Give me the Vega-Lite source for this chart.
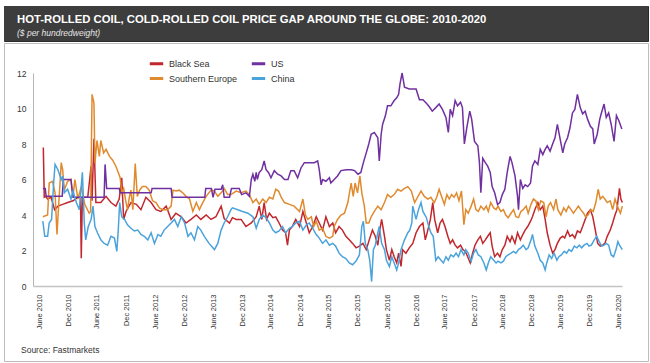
{
  "$schema": "https://vega.github.io/schema/vega-lite/v6.json",
  "background": "white",
  "padding": {"left": 3, "top": 5, "right": 3, "bottom": 5},
  "config": {
    "font": "Liberation Sans",
    "view": {"stroke": null},
    "concat": {"spacing": 0}
  },
  "spacing": 0,
  "vconcat": [
    {
      "width": 644,
      "height": 35,
      "view": {"fill": "#3d3d3d", "stroke": "#2a2a2a", "strokeWidth": 1},
      "data": {"values": [{"k": 1}]},
      "mark": {"type": "rect", "color": "#3d3d3d"},
      "encoding": {},
      "title": {
        "text": "HOT-ROLLED COIL, COLD-ROLLED COIL PRICE GAP AROUND THE GLOBE: 2010-2020",
        "subtitle": "($ per hundredweight)",
        "anchor": "start",
        "frame": "group",
        "orient": "top",
        "offset": -31,
        "dx": 13,
        "font": "Liberation Sans",
        "fontSize": 11.3,
        "fontWeight": "bold",
        "color": "#ffffff",
        "subtitleFont": "Liberation Sans",
        "subtitleFontSize": 8.5,
        "subtitleFontStyle": "italic",
        "subtitleColor": "#e6e6e6",
        "subtitlePadding": 3
      }
    },
    {
      "width": 644,
      "height": 318,
      "view": {"fill": "white", "stroke": "#bdbdbd", "strokeWidth": 1},
      "title": {
        "text": "Source: Fastmarkets",
        "anchor": "start",
        "frame": "group",
        "orient": "bottom",
        "offset": -15,
        "dx": 17,
        "fontSize": 8.5,
        "fontWeight": "normal",
        "color": "#333333"
      },
      "data": {"values": [
        {"s":"Black Sea","d":"2010-06-28","v":7.8},
        {"s":"Black Sea","d":"2010-07-04","v":5.0},
        {"s":"Black Sea","d":"2010-07-13","v":5.05},
        {"s":"Black Sea","d":"2010-07-25","v":4.9},
        {"s":"Black Sea","d":"2010-08-16","v":5.0},
        {"s":"Black Sea","d":"2010-09-07","v":4.3},
        {"s":"Black Sea","d":"2010-09-28","v":4.5},
        {"s":"Black Sea","d":"2010-10-28","v":4.6},
        {"s":"Black Sea","d":"2010-11-28","v":4.7},
        {"s":"Black Sea","d":"2011-01-01","v":4.8},
        {"s":"Black Sea","d":"2011-02-01","v":5.0},
        {"s":"Black Sea","d":"2011-02-17","v":5.0},
        {"s":"Black Sea","d":"2011-02-22","v":1.57},
        {"s":"Black Sea","d":"2011-03-01","v":5.0},
        {"s":"Black Sea","d":"2011-04-04","v":5.0},
        {"s":"Black Sea","d":"2011-04-25","v":6.75},
        {"s":"Black Sea","d":"2011-05-01","v":4.8},
        {"s":"Black Sea","d":"2011-05-13","v":8.3},
        {"s":"Black Sea","d":"2011-05-25","v":4.7},
        {"s":"Black Sea","d":"2011-06-25","v":4.7},
        {"s":"Black Sea","d":"2011-07-28","v":5.05},
        {"s":"Black Sea","d":"2011-08-28","v":4.7},
        {"s":"Black Sea","d":"2011-09-28","v":4.5},
        {"s":"Black Sea","d":"2011-10-19","v":4.9},
        {"s":"Black Sea","d":"2011-11-04","v":6.1},
        {"s":"Black Sea","d":"2011-11-16","v":3.75},
        {"s":"Black Sea","d":"2011-12-01","v":4.2},
        {"s":"Black Sea","d":"2012-01-01","v":4.7},
        {"s":"Black Sea","d":"2012-02-04","v":4.6},
        {"s":"Black Sea","d":"2012-03-04","v":4.3},
        {"s":"Black Sea","d":"2012-04-04","v":5.0},
        {"s":"Black Sea","d":"2012-05-07","v":4.7},
        {"s":"Black Sea","d":"2012-06-07","v":4.3},
        {"s":"Black Sea","d":"2012-07-07","v":4.2},
        {"s":"Black Sea","d":"2012-08-10","v":4.5},
        {"s":"Black Sea","d":"2012-09-10","v":3.75},
        {"s":"Black Sea","d":"2012-10-10","v":4.1},
        {"s":"Black Sea","d":"2012-11-13","v":3.9},
        {"s":"Black Sea","d":"2012-12-13","v":3.55},
        {"s":"Black Sea","d":"2013-01-13","v":3.75},
        {"s":"Black Sea","d":"2013-02-16","v":4.0},
        {"s":"Black Sea","d":"2013-03-16","v":3.75},
        {"s":"Black Sea","d":"2013-04-19","v":4.0},
        {"s":"Black Sea","d":"2013-05-19","v":3.75},
        {"s":"Black Sea","d":"2013-06-19","v":3.9},
        {"s":"Black Sea","d":"2013-07-22","v":4.5},
        {"s":"Black Sea","d":"2013-08-10","v":3.8},
        {"s":"Black Sea","d":"2013-09-13","v":3.55},
        {"s":"Black Sea","d":"2013-10-01","v":3.85},
        {"s":"Black Sea","d":"2013-10-25","v":3.75},
        {"s":"Black Sea","d":"2013-11-25","v":3.75},
        {"s":"Black Sea","d":"2013-12-25","v":3.35},
        {"s":"Black Sea","d":"2014-01-28","v":3.55},
        {"s":"Black Sea","d":"2014-02-28","v":3.9},
        {"s":"Black Sea","d":"2014-03-19","v":4.5},
        {"s":"Black Sea","d":"2014-04-04","v":3.75},
        {"s":"Black Sea","d":"2014-04-19","v":4.7},
        {"s":"Black Sea","d":"2014-05-04","v":3.75},
        {"s":"Black Sea","d":"2014-05-22","v":4.1},
        {"s":"Black Sea","d":"2014-06-13","v":3.85},
        {"s":"Black Sea","d":"2014-07-01","v":3.9},
        {"s":"Black Sea","d":"2014-07-22","v":3.55},
        {"s":"Black Sea","d":"2014-08-13","v":3.15},
        {"s":"Black Sea","d":"2014-09-01","v":3.0},
        {"s":"Black Sea","d":"2014-09-13","v":2.3},
        {"s":"Black Sea","d":"2014-09-25","v":3.15},
        {"s":"Black Sea","d":"2014-10-13","v":3.35},
        {"s":"Black Sea","d":"2014-11-04","v":3.75},
        {"s":"Black Sea","d":"2014-11-28","v":3.35},
        {"s":"Black Sea","d":"2014-12-19","v":4.2},
        {"s":"Black Sea","d":"2015-01-10","v":3.55},
        {"s":"Black Sea","d":"2015-01-28","v":3.0},
        {"s":"Black Sea","d":"2015-02-19","v":3.35},
        {"s":"Black Sea","d":"2015-03-13","v":3.9},
        {"s":"Black Sea","d":"2015-04-01","v":3.55},
        {"s":"Black Sea","d":"2015-04-22","v":3.15},
        {"s":"Black Sea","d":"2015-05-13","v":3.9},
        {"s":"Black Sea","d":"2015-06-04","v":3.35},
        {"s":"Black Sea","d":"2015-06-25","v":3.55},
        {"s":"Black Sea","d":"2015-07-13","v":3.0},
        {"s":"Black Sea","d":"2015-08-04","v":3.35},
        {"s":"Black Sea","d":"2015-08-25","v":3.15},
        {"s":"Black Sea","d":"2015-09-16","v":2.8},
        {"s":"Black Sea","d":"2015-10-07","v":2.6},
        {"s":"Black Sea","d":"2015-10-28","v":2.4},
        {"s":"Black Sea","d":"2015-11-19","v":2.15},
        {"s":"Black Sea","d":"2015-12-10","v":2.25},
        {"s":"Black Sea","d":"2016-01-01","v":2.4},
        {"s":"Black Sea","d":"2016-01-22","v":2.05},
        {"s":"Black Sea","d":"2016-02-10","v":2.6},
        {"s":"Black Sea","d":"2016-03-01","v":3.15},
        {"s":"Black Sea","d":"2016-03-19","v":2.8},
        {"s":"Black Sea","d":"2016-04-04","v":2.3},
        {"s":"Black Sea","d":"2016-04-16","v":3.15},
        {"s":"Black Sea","d":"2016-04-28","v":3.75},
        {"s":"Black Sea","d":"2016-05-16","v":2.8},
        {"s":"Black Sea","d":"2016-05-28","v":2.05},
        {"s":"Black Sea","d":"2016-06-16","v":1.45},
        {"s":"Black Sea","d":"2016-07-01","v":2.05},
        {"s":"Black Sea","d":"2016-07-16","v":1.65},
        {"s":"Black Sea","d":"2016-08-01","v":1.3},
        {"s":"Black Sea","d":"2016-08-13","v":1.85},
        {"s":"Black Sea","d":"2016-08-28","v":1.1},
        {"s":"Black Sea","d":"2016-09-07","v":2.05},
        {"s":"Black Sea","d":"2016-09-28","v":1.85},
        {"s":"Black Sea","d":"2016-10-19","v":2.15},
        {"s":"Black Sea","d":"2016-11-10","v":2.4},
        {"s":"Black Sea","d":"2016-12-01","v":3.0},
        {"s":"Black Sea","d":"2016-12-22","v":3.35},
        {"s":"Black Sea","d":"2017-01-13","v":3.55},
        {"s":"Black Sea","d":"2017-01-28","v":2.6},
        {"s":"Black Sea","d":"2017-02-13","v":3.15},
        {"s":"Black Sea","d":"2017-03-01","v":3.75},
        {"s":"Black Sea","d":"2017-03-16","v":4.7},
        {"s":"Black Sea","d":"2017-03-28","v":3.75},
        {"s":"Black Sea","d":"2017-04-16","v":3.0},
        {"s":"Black Sea","d":"2017-05-01","v":3.55},
        {"s":"Black Sea","d":"2017-05-16","v":3.75},
        {"s":"Black Sea","d":"2017-06-01","v":3.35},
        {"s":"Black Sea","d":"2017-06-19","v":2.8},
        {"s":"Black Sea","d":"2017-07-04","v":2.4},
        {"s":"Black Sea","d":"2017-07-19","v":2.6},
        {"s":"Black Sea","d":"2017-08-04","v":2.3},
        {"s":"Black Sea","d":"2017-08-19","v":2.15},
        {"s":"Black Sea","d":"2017-09-07","v":2.3},
        {"s":"Black Sea","d":"2017-09-22","v":2.05},
        {"s":"Black Sea","d":"2017-10-07","v":1.95},
        {"s":"Black Sea","d":"2017-10-22","v":1.65},
        {"s":"Black Sea","d":"2017-11-07","v":1.3},
        {"s":"Black Sea","d":"2017-11-22","v":1.85},
        {"s":"Black Sea","d":"2017-12-07","v":2.3},
        {"s":"Black Sea","d":"2017-12-25","v":2.6},
        {"s":"Black Sea","d":"2018-01-10","v":2.8},
        {"s":"Black Sea","d":"2018-01-25","v":2.4},
        {"s":"Black Sea","d":"2018-02-10","v":2.6},
        {"s":"Black Sea","d":"2018-02-25","v":2.8},
        {"s":"Black Sea","d":"2018-03-13","v":3.0},
        {"s":"Black Sea","d":"2018-03-25","v":2.25},
        {"s":"Black Sea","d":"2018-04-10","v":1.65},
        {"s":"Black Sea","d":"2018-04-28","v":1.85},
        {"s":"Black Sea","d":"2018-05-13","v":1.65},
        {"s":"Black Sea","d":"2018-05-28","v":2.05},
        {"s":"Black Sea","d":"2018-06-13","v":2.3},
        {"s":"Black Sea","d":"2018-06-28","v":2.8},
        {"s":"Black Sea","d":"2018-07-16","v":2.5},
        {"s":"Black Sea","d":"2018-07-28","v":2.8},
        {"s":"Black Sea","d":"2018-08-16","v":2.4},
        {"s":"Black Sea","d":"2018-09-01","v":3.0},
        {"s":"Black Sea","d":"2018-09-19","v":2.6},
        {"s":"Black Sea","d":"2018-10-04","v":2.9},
        {"s":"Black Sea","d":"2018-10-19","v":3.15},
        {"s":"Black Sea","d":"2018-11-04","v":3.35},
        {"s":"Black Sea","d":"2018-11-22","v":3.65},
        {"s":"Black Sea","d":"2018-12-04","v":3.9},
        {"s":"Black Sea","d":"2018-12-19","v":4.3},
        {"s":"Black Sea","d":"2019-01-07","v":4.7},
        {"s":"Black Sea","d":"2019-01-22","v":4.3},
        {"s":"Black Sea","d":"2019-02-07","v":4.5},
        {"s":"Black Sea","d":"2019-02-22","v":3.75},
        {"s":"Black Sea","d":"2019-03-07","v":3.0},
        {"s":"Black Sea","d":"2019-03-25","v":2.3},
        {"s":"Black Sea","d":"2019-04-10","v":1.85},
        {"s":"Black Sea","d":"2019-04-25","v":2.05},
        {"s":"Black Sea","d":"2019-05-10","v":2.4},
        {"s":"Black Sea","d":"2019-05-28","v":2.7},
        {"s":"Black Sea","d":"2019-06-13","v":2.8},
        {"s":"Black Sea","d":"2019-06-25","v":2.7},
        {"s":"Black Sea","d":"2019-07-13","v":3.1},
        {"s":"Black Sea","d":"2019-07-28","v":2.8},
        {"s":"Black Sea","d":"2019-08-13","v":2.9},
        {"s":"Black Sea","d":"2019-08-28","v":2.7},
        {"s":"Black Sea","d":"2019-09-13","v":3.1},
        {"s":"Black Sea","d":"2019-10-01","v":3.0},
        {"s":"Black Sea","d":"2019-10-16","v":3.35},
        {"s":"Black Sea","d":"2019-11-01","v":3.75},
        {"s":"Black Sea","d":"2019-11-16","v":4.1},
        {"s":"Black Sea","d":"2019-12-04","v":4.3},
        {"s":"Black Sea","d":"2019-12-19","v":3.9},
        {"s":"Black Sea","d":"2020-01-04","v":3.15},
        {"s":"Black Sea","d":"2020-01-19","v":2.4},
        {"s":"Black Sea","d":"2020-02-04","v":2.25},
        {"s":"Black Sea","d":"2020-02-19","v":2.3},
        {"s":"Black Sea","d":"2020-03-04","v":2.4},
        {"s":"Black Sea","d":"2020-03-19","v":2.8},
        {"s":"Black Sea","d":"2020-04-07","v":3.15},
        {"s":"Black Sea","d":"2020-04-22","v":3.55},
        {"s":"Black Sea","d":"2020-05-07","v":4.0},
        {"s":"Black Sea","d":"2020-05-19","v":4.3},
        {"s":"Black Sea","d":"2020-06-04","v":5.5},
        {"s":"Black Sea","d":"2020-06-13","v":4.9},
        {"s":"Black Sea","d":"2020-06-22","v":4.7},

        {"s":"Southern Europe","d":"2010-06-25","v":3.9},
        {"s":"Southern Europe","d":"2010-07-25","v":4.0},
        {"s":"Southern Europe","d":"2010-08-04","v":5.8},
        {"s":"Southern Europe","d":"2010-08-25","v":5.9},
        {"s":"Southern Europe","d":"2010-09-10","v":5.25},
        {"s":"Southern Europe","d":"2010-09-22","v":2.9},
        {"s":"Southern Europe","d":"2010-10-01","v":4.3},
        {"s":"Southern Europe","d":"2010-10-19","v":6.95},
        {"s":"Southern Europe","d":"2010-10-28","v":6.55},
        {"s":"Southern Europe","d":"2010-11-07","v":5.4},
        {"s":"Southern Europe","d":"2010-11-28","v":5.9},
        {"s":"Southern Europe","d":"2010-12-19","v":6.0},
        {"s":"Southern Europe","d":"2011-01-01","v":5.05},
        {"s":"Southern Europe","d":"2011-01-13","v":6.0},
        {"s":"Southern Europe","d":"2011-02-01","v":4.9},
        {"s":"Southern Europe","d":"2011-02-22","v":5.6},
        {"s":"Southern Europe","d":"2011-03-16","v":4.6},
        {"s":"Southern Europe","d":"2011-04-13","v":4.1},
        {"s":"Southern Europe","d":"2011-04-22","v":4.2},
        {"s":"Southern Europe","d":"2011-05-01","v":10.8},
        {"s":"Southern Europe","d":"2011-05-13","v":10.3},
        {"s":"Southern Europe","d":"2011-05-19","v":6.9},
        {"s":"Southern Europe","d":"2011-06-01","v":8.2},
        {"s":"Southern Europe","d":"2011-06-16","v":7.3},
        {"s":"Southern Europe","d":"2011-06-25","v":8.2},
        {"s":"Southern Europe","d":"2011-07-13","v":7.5},
        {"s":"Southern Europe","d":"2011-07-28","v":7.7},
        {"s":"Southern Europe","d":"2011-08-19","v":7.3},
        {"s":"Southern Europe","d":"2011-09-07","v":7.1},
        {"s":"Southern Europe","d":"2011-09-28","v":6.75},
        {"s":"Southern Europe","d":"2011-10-13","v":6.4},
        {"s":"Southern Europe","d":"2011-10-25","v":6.1},
        {"s":"Southern Europe","d":"2011-11-04","v":5.25},
        {"s":"Southern Europe","d":"2011-11-16","v":5.5},
        {"s":"Southern Europe","d":"2011-12-01","v":4.7},
        {"s":"Southern Europe","d":"2011-12-10","v":4.3},
        {"s":"Southern Europe","d":"2011-12-22","v":5.0},
        {"s":"Southern Europe","d":"2012-01-01","v":5.4},
        {"s":"Southern Europe","d":"2012-01-13","v":4.3},
        {"s":"Southern Europe","d":"2012-01-28","v":6.9},
        {"s":"Southern Europe","d":"2012-02-10","v":5.05},
        {"s":"Southern Europe","d":"2012-02-25","v":5.4},
        {"s":"Southern Europe","d":"2012-03-13","v":5.6},
        {"s":"Southern Europe","d":"2012-04-04","v":5.6},
        {"s":"Southern Europe","d":"2012-04-25","v":5.4},
        {"s":"Southern Europe","d":"2012-05-16","v":4.8},
        {"s":"Southern Europe","d":"2012-06-07","v":4.7},
        {"s":"Southern Europe","d":"2012-06-28","v":4.4},
        {"s":"Southern Europe","d":"2012-07-19","v":4.3},
        {"s":"Southern Europe","d":"2012-08-19","v":4.3},
        {"s":"Southern Europe","d":"2012-09-10","v":4.5},
        {"s":"Southern Europe","d":"2012-09-22","v":5.4},
        {"s":"Southern Europe","d":"2012-10-10","v":5.35},
        {"s":"Southern Europe","d":"2012-11-01","v":5.4},
        {"s":"Southern Europe","d":"2012-11-22","v":5.25},
        {"s":"Southern Europe","d":"2012-12-13","v":5.05},
        {"s":"Southern Europe","d":"2013-01-04","v":4.9},
        {"s":"Southern Europe","d":"2013-01-25","v":4.2},
        {"s":"Southern Europe","d":"2013-02-16","v":4.7},
        {"s":"Southern Europe","d":"2013-03-07","v":4.3},
        {"s":"Southern Europe","d":"2013-03-28","v":4.7},
        {"s":"Southern Europe","d":"2013-04-19","v":5.05},
        {"s":"Southern Europe","d":"2013-05-19","v":5.4},
        {"s":"Southern Europe","d":"2013-06-10","v":5.35},
        {"s":"Southern Europe","d":"2013-07-01","v":5.05},
        {"s":"Southern Europe","d":"2013-07-22","v":5.25},
        {"s":"Southern Europe","d":"2013-08-10","v":5.5},
        {"s":"Southern Europe","d":"2013-09-01","v":5.15},
        {"s":"Southern Europe","d":"2013-09-22","v":5.15},
        {"s":"Southern Europe","d":"2013-10-25","v":5.35},
        {"s":"Southern Europe","d":"2013-11-25","v":5.25},
        {"s":"Southern Europe","d":"2013-12-25","v":5.35},
        {"s":"Southern Europe","d":"2014-01-16","v":5.15},
        {"s":"Southern Europe","d":"2014-02-07","v":4.7},
        {"s":"Southern Europe","d":"2014-02-28","v":4.9},
        {"s":"Southern Europe","d":"2014-03-19","v":4.6},
        {"s":"Southern Europe","d":"2014-04-10","v":4.9},
        {"s":"Southern Europe","d":"2014-05-01","v":4.7},
        {"s":"Southern Europe","d":"2014-05-22","v":5.0},
        {"s":"Southern Europe","d":"2014-06-13","v":4.9},
        {"s":"Southern Europe","d":"2014-07-01","v":5.45},
        {"s":"Southern Europe","d":"2014-07-19","v":5.35},
        {"s":"Southern Europe","d":"2014-08-04","v":5.0},
        {"s":"Southern Europe","d":"2014-08-25","v":4.7},
        {"s":"Southern Europe","d":"2014-09-25","v":4.6},
        {"s":"Southern Europe","d":"2014-10-25","v":4.5},
        {"s":"Southern Europe","d":"2014-11-28","v":4.2},
        {"s":"Southern Europe","d":"2014-12-19","v":4.9},
        {"s":"Southern Europe","d":"2015-01-04","v":4.0},
        {"s":"Southern Europe","d":"2015-01-19","v":3.75},
        {"s":"Southern Europe","d":"2015-02-10","v":3.9},
        {"s":"Southern Europe","d":"2015-02-25","v":3.35},
        {"s":"Southern Europe","d":"2015-03-13","v":3.65},
        {"s":"Southern Europe","d":"2015-04-01","v":3.15},
        {"s":"Southern Europe","d":"2015-04-22","v":3.25},
        {"s":"Southern Europe","d":"2015-05-13","v":2.8},
        {"s":"Southern Europe","d":"2015-06-04","v":2.7},
        {"s":"Southern Europe","d":"2015-06-25","v":2.8},
        {"s":"Southern Europe","d":"2015-07-04","v":3.35},
        {"s":"Southern Europe","d":"2015-07-25","v":3.75},
        {"s":"Southern Europe","d":"2015-08-16","v":4.0},
        {"s":"Southern Europe","d":"2015-09-07","v":4.1},
        {"s":"Southern Europe","d":"2015-09-28","v":4.7},
        {"s":"Southern Europe","d":"2015-10-19","v":5.8},
        {"s":"Southern Europe","d":"2015-11-01","v":5.05},
        {"s":"Southern Europe","d":"2015-11-13","v":5.8},
        {"s":"Southern Europe","d":"2015-11-28","v":5.25},
        {"s":"Southern Europe","d":"2015-12-13","v":6.2},
        {"s":"Southern Europe","d":"2015-12-25","v":5.25},
        {"s":"Southern Europe","d":"2016-01-10","v":4.5},
        {"s":"Southern Europe","d":"2016-01-22","v":3.55},
        {"s":"Southern Europe","d":"2016-02-07","v":3.55},
        {"s":"Southern Europe","d":"2016-02-22","v":3.9},
        {"s":"Southern Europe","d":"2016-03-13","v":4.2},
        {"s":"Southern Europe","d":"2016-04-04","v":4.5},
        {"s":"Southern Europe","d":"2016-04-25","v":4.3},
        {"s":"Southern Europe","d":"2016-05-16","v":4.7},
        {"s":"Southern Europe","d":"2016-06-04","v":5.15},
        {"s":"Southern Europe","d":"2016-06-25","v":5.0},
        {"s":"Southern Europe","d":"2016-07-16","v":5.15},
        {"s":"Southern Europe","d":"2016-08-07","v":5.45},
        {"s":"Southern Europe","d":"2016-08-28","v":5.35},
        {"s":"Southern Europe","d":"2016-09-19","v":5.5},
        {"s":"Southern Europe","d":"2016-10-10","v":5.6},
        {"s":"Southern Europe","d":"2016-11-01","v":5.35},
        {"s":"Southern Europe","d":"2016-11-22","v":4.7},
        {"s":"Southern Europe","d":"2016-12-10","v":5.0},
        {"s":"Southern Europe","d":"2017-01-01","v":5.35},
        {"s":"Southern Europe","d":"2017-01-22","v":5.05},
        {"s":"Southern Europe","d":"2017-02-13","v":4.9},
        {"s":"Southern Europe","d":"2017-03-04","v":5.0},
        {"s":"Southern Europe","d":"2017-03-25","v":4.7},
        {"s":"Southern Europe","d":"2017-04-10","v":5.0},
        {"s":"Southern Europe","d":"2017-04-25","v":5.45},
        {"s":"Southern Europe","d":"2017-05-10","v":5.05},
        {"s":"Southern Europe","d":"2017-05-28","v":4.6},
        {"s":"Southern Europe","d":"2017-06-13","v":5.15},
        {"s":"Southern Europe","d":"2017-06-28","v":4.9},
        {"s":"Southern Europe","d":"2017-07-13","v":5.15},
        {"s":"Southern Europe","d":"2017-07-28","v":5.0},
        {"s":"Southern Europe","d":"2017-08-13","v":5.25},
        {"s":"Southern Europe","d":"2017-08-28","v":4.8},
        {"s":"Southern Europe","d":"2017-09-13","v":5.35},
        {"s":"Southern Europe","d":"2017-09-28","v":3.45},
        {"s":"Southern Europe","d":"2017-10-10","v":4.3},
        {"s":"Southern Europe","d":"2017-10-25","v":4.1},
        {"s":"Southern Europe","d":"2017-11-13","v":4.5},
        {"s":"Southern Europe","d":"2017-11-28","v":4.9},
        {"s":"Southern Europe","d":"2017-12-13","v":4.3},
        {"s":"Southern Europe","d":"2017-12-28","v":4.2},
        {"s":"Southern Europe","d":"2018-01-13","v":4.5},
        {"s":"Southern Europe","d":"2018-02-01","v":4.3},
        {"s":"Southern Europe","d":"2018-02-16","v":4.5},
        {"s":"Southern Europe","d":"2018-03-01","v":4.2},
        {"s":"Southern Europe","d":"2018-03-16","v":4.7},
        {"s":"Southern Europe","d":"2018-04-04","v":4.4},
        {"s":"Southern Europe","d":"2018-04-19","v":4.3},
        {"s":"Southern Europe","d":"2018-05-01","v":4.5},
        {"s":"Southern Europe","d":"2018-05-19","v":4.2},
        {"s":"Southern Europe","d":"2018-06-04","v":4.3},
        {"s":"Southern Europe","d":"2018-06-19","v":4.0},
        {"s":"Southern Europe","d":"2018-07-04","v":3.85},
        {"s":"Southern Europe","d":"2018-07-22","v":4.1},
        {"s":"Southern Europe","d":"2018-08-07","v":4.3},
        {"s":"Southern Europe","d":"2018-08-22","v":3.9},
        {"s":"Southern Europe","d":"2018-09-07","v":3.85},
        {"s":"Southern Europe","d":"2018-09-22","v":4.2},
        {"s":"Southern Europe","d":"2018-10-07","v":4.3},
        {"s":"Southern Europe","d":"2018-10-25","v":4.5},
        {"s":"Southern Europe","d":"2018-11-07","v":4.1},
        {"s":"Southern Europe","d":"2018-11-25","v":4.6},
        {"s":"Southern Europe","d":"2018-12-10","v":4.9},
        {"s":"Southern Europe","d":"2018-12-25","v":4.8},
        {"s":"Southern Europe","d":"2019-01-10","v":4.3},
        {"s":"Southern Europe","d":"2019-01-25","v":4.8},
        {"s":"Southern Europe","d":"2019-02-13","v":4.7},
        {"s":"Southern Europe","d":"2019-02-28","v":3.9},
        {"s":"Southern Europe","d":"2019-03-13","v":4.5},
        {"s":"Southern Europe","d":"2019-03-28","v":4.7},
        {"s":"Southern Europe","d":"2019-04-16","v":4.3},
        {"s":"Southern Europe","d":"2019-05-01","v":4.9},
        {"s":"Southern Europe","d":"2019-05-13","v":4.3},
        {"s":"Southern Europe","d":"2019-06-01","v":4.0},
        {"s":"Southern Europe","d":"2019-06-19","v":4.4},
        {"s":"Southern Europe","d":"2019-07-04","v":4.2},
        {"s":"Southern Europe","d":"2019-07-19","v":4.5},
        {"s":"Southern Europe","d":"2019-08-04","v":4.3},
        {"s":"Southern Europe","d":"2019-08-19","v":4.1},
        {"s":"Southern Europe","d":"2019-09-04","v":4.3},
        {"s":"Southern Europe","d":"2019-09-19","v":4.5},
        {"s":"Southern Europe","d":"2019-10-04","v":4.3},
        {"s":"Southern Europe","d":"2019-10-22","v":4.1},
        {"s":"Southern Europe","d":"2019-11-04","v":3.9},
        {"s":"Southern Europe","d":"2019-11-19","v":4.0},
        {"s":"Southern Europe","d":"2019-12-07","v":4.3},
        {"s":"Southern Europe","d":"2019-12-22","v":4.2},
        {"s":"Southern Europe","d":"2020-01-07","v":4.7},
        {"s":"Southern Europe","d":"2020-01-22","v":5.45},
        {"s":"Southern Europe","d":"2020-02-04","v":4.9},
        {"s":"Southern Europe","d":"2020-02-19","v":5.05},
        {"s":"Southern Europe","d":"2020-03-04","v":4.9},
        {"s":"Southern Europe","d":"2020-03-19","v":4.7},
        {"s":"Southern Europe","d":"2020-04-07","v":4.8},
        {"s":"Southern Europe","d":"2020-04-22","v":4.3},
        {"s":"Southern Europe","d":"2020-05-07","v":4.9},
        {"s":"Southern Europe","d":"2020-05-22","v":4.5},
        {"s":"Southern Europe","d":"2020-06-10","v":4.1},
        {"s":"Southern Europe","d":"2020-06-22","v":4.5},

        {"s":"US","d":"2010-06-25","v":5.5},
        {"s":"US","d":"2010-07-10","v":5.5},
        {"s":"US","d":"2010-07-16","v":5.05},
        {"s":"US","d":"2010-10-25","v":5.05},
        {"s":"US","d":"2010-11-01","v":6.0},
        {"s":"US","d":"2010-12-19","v":6.0},
        {"s":"US","d":"2010-12-25","v":5.5},
        {"s":"US","d":"2011-01-01","v":5.0},
        {"s":"US","d":"2011-07-16","v":5.0},
        {"s":"US","d":"2011-07-22","v":6.85},
        {"s":"US","d":"2011-08-01","v":5.5},
        {"s":"US","d":"2011-10-19","v":5.5},
        {"s":"US","d":"2011-10-25","v":5.25},
        {"s":"US","d":"2012-05-07","v":5.25},
        {"s":"US","d":"2012-05-13","v":5.5},
        {"s":"US","d":"2012-09-10","v":5.5},
        {"s":"US","d":"2012-09-16","v":5.0},
        {"s":"US","d":"2013-04-10","v":5.0},
        {"s":"US","d":"2013-04-16","v":5.5},
        {"s":"US","d":"2013-05-22","v":5.5},
        {"s":"US","d":"2013-06-01","v":5.0},
        {"s":"US","d":"2013-06-13","v":5.45},
        {"s":"US","d":"2013-07-22","v":5.45},
        {"s":"US","d":"2013-08-01","v":5.7},
        {"s":"US","d":"2013-08-10","v":5.0},
        {"s":"US","d":"2013-09-13","v":5.0},
        {"s":"US","d":"2013-09-25","v":5.5},
        {"s":"US","d":"2013-11-13","v":5.5},
        {"s":"US","d":"2013-11-28","v":5.15},
        {"s":"US","d":"2013-12-25","v":5.25},
        {"s":"US","d":"2014-01-16","v":5.05},
        {"s":"US","d":"2014-01-28","v":6.0},
        {"s":"US","d":"2014-02-07","v":6.3},
        {"s":"US","d":"2014-02-19","v":5.9},
        {"s":"US","d":"2014-02-28","v":6.4},
        {"s":"US","d":"2014-03-07","v":6.0},
        {"s":"US","d":"2014-03-19","v":6.4},
        {"s":"US","d":"2014-04-04","v":6.55},
        {"s":"US","d":"2014-04-19","v":7.05},
        {"s":"US","d":"2014-05-01","v":6.55},
        {"s":"US","d":"2014-05-16","v":6.4},
        {"s":"US","d":"2014-06-01","v":6.1},
        {"s":"US","d":"2014-06-22","v":6.5},
        {"s":"US","d":"2014-07-13","v":6.3},
        {"s":"US","d":"2014-08-04","v":6.2},
        {"s":"US","d":"2014-08-25","v":6.0},
        {"s":"US","d":"2014-09-16","v":6.0},
        {"s":"US","d":"2014-10-04","v":6.5},
        {"s":"US","d":"2014-10-25","v":6.5},
        {"s":"US","d":"2014-11-16","v":6.1},
        {"s":"US","d":"2014-12-07","v":6.65},
        {"s":"US","d":"2014-12-28","v":6.95},
        {"s":"US","d":"2015-01-28","v":6.95},
        {"s":"US","d":"2015-03-01","v":6.95},
        {"s":"US","d":"2015-03-22","v":7.05},
        {"s":"US","d":"2015-04-01","v":6.55},
        {"s":"US","d":"2015-04-13","v":5.7},
        {"s":"US","d":"2015-04-22","v":6.0},
        {"s":"US","d":"2015-05-13","v":5.9},
        {"s":"US","d":"2015-06-04","v":6.1},
        {"s":"US","d":"2015-06-13","v":5.8},
        {"s":"US","d":"2015-07-04","v":6.0},
        {"s":"US","d":"2015-07-25","v":6.2},
        {"s":"US","d":"2015-08-16","v":6.5},
        {"s":"US","d":"2015-09-19","v":6.55},
        {"s":"US","d":"2015-10-19","v":6.55},
        {"s":"US","d":"2015-11-10","v":6.5},
        {"s":"US","d":"2015-12-01","v":6.3},
        {"s":"US","d":"2015-12-19","v":6.4},
        {"s":"US","d":"2016-01-04","v":6.95},
        {"s":"US","d":"2016-01-22","v":7.5},
        {"s":"US","d":"2016-02-07","v":8.0},
        {"s":"US","d":"2016-02-22","v":8.55},
        {"s":"US","d":"2016-03-13","v":8.65},
        {"s":"US","d":"2016-04-04","v":8.35},
        {"s":"US","d":"2016-04-13","v":7.05},
        {"s":"US","d":"2016-04-25","v":8.55},
        {"s":"US","d":"2016-05-04","v":9.1},
        {"s":"US","d":"2016-05-22","v":9.6},
        {"s":"US","d":"2016-06-04","v":10.15},
        {"s":"US","d":"2016-06-25","v":10.15},
        {"s":"US","d":"2016-07-16","v":10.45},
        {"s":"US","d":"2016-08-01","v":10.6},
        {"s":"US","d":"2016-08-13","v":10.8},
        {"s":"US","d":"2016-08-22","v":11.4},
        {"s":"US","d":"2016-09-04","v":12.0},
        {"s":"US","d":"2016-09-19","v":11.2},
        {"s":"US","d":"2016-10-19","v":11.1},
        {"s":"US","d":"2016-12-01","v":11.1},
        {"s":"US","d":"2016-12-22","v":10.5},
        {"s":"US","d":"2017-01-13","v":10.5},
        {"s":"US","d":"2017-02-04","v":10.3},
        {"s":"US","d":"2017-02-22","v":10.1},
        {"s":"US","d":"2017-03-13","v":9.85},
        {"s":"US","d":"2017-04-04","v":10.05},
        {"s":"US","d":"2017-04-25","v":10.25},
        {"s":"US","d":"2017-05-16","v":9.95},
        {"s":"US","d":"2017-06-07","v":9.5},
        {"s":"US","d":"2017-06-22","v":8.65},
        {"s":"US","d":"2017-07-04","v":9.95},
        {"s":"US","d":"2017-07-19","v":9.6},
        {"s":"US","d":"2017-08-04","v":10.45},
        {"s":"US","d":"2017-08-19","v":10.15},
        {"s":"US","d":"2017-09-07","v":10.35},
        {"s":"US","d":"2017-09-19","v":10.05},
        {"s":"US","d":"2017-10-01","v":8.0},
        {"s":"US","d":"2017-10-16","v":8.9},
        {"s":"US","d":"2017-11-04","v":9.85},
        {"s":"US","d":"2017-11-16","v":9.4},
        {"s":"US","d":"2017-12-04","v":8.15},
        {"s":"US","d":"2017-12-25","v":7.9},
        {"s":"US","d":"2018-01-04","v":6.95},
        {"s":"US","d":"2018-01-13","v":5.25},
        {"s":"US","d":"2018-01-25","v":7.2},
        {"s":"US","d":"2018-02-10","v":6.95},
        {"s":"US","d":"2018-02-25","v":6.75},
        {"s":"US","d":"2018-03-13","v":6.4},
        {"s":"US","d":"2018-03-25","v":5.6},
        {"s":"US","d":"2018-04-10","v":5.25},
        {"s":"US","d":"2018-04-28","v":4.6},
        {"s":"US","d":"2018-05-13","v":4.7},
        {"s":"US","d":"2018-05-28","v":5.15},
        {"s":"US","d":"2018-06-13","v":5.45},
        {"s":"US","d":"2018-06-28","v":6.4},
        {"s":"US","d":"2018-07-16","v":7.3},
        {"s":"US","d":"2018-07-28","v":6.95},
        {"s":"US","d":"2018-08-16","v":6.2},
        {"s":"US","d":"2018-09-01","v":5.05},
        {"s":"US","d":"2018-09-07","v":4.3},
        {"s":"US","d":"2018-09-19","v":6.0},
        {"s":"US","d":"2018-10-04","v":5.5},
        {"s":"US","d":"2018-10-19","v":5.7},
        {"s":"US","d":"2018-11-04","v":5.6},
        {"s":"US","d":"2018-11-22","v":5.8},
        {"s":"US","d":"2018-12-04","v":6.75},
        {"s":"US","d":"2018-12-19","v":7.05},
        {"s":"US","d":"2019-01-07","v":6.85},
        {"s":"US","d":"2019-01-22","v":7.7},
        {"s":"US","d":"2019-02-07","v":7.4},
        {"s":"US","d":"2019-02-22","v":7.7},
        {"s":"US","d":"2019-03-07","v":7.9},
        {"s":"US","d":"2019-03-25","v":7.6},
        {"s":"US","d":"2019-04-10","v":8.0},
        {"s":"US","d":"2019-04-25","v":8.35},
        {"s":"US","d":"2019-05-10","v":9.1},
        {"s":"US","d":"2019-05-28","v":8.25},
        {"s":"US","d":"2019-06-13","v":7.5},
        {"s":"US","d":"2019-06-25","v":8.0},
        {"s":"US","d":"2019-07-13","v":8.35},
        {"s":"US","d":"2019-07-28","v":8.9},
        {"s":"US","d":"2019-08-13","v":9.75},
        {"s":"US","d":"2019-08-28","v":9.95},
        {"s":"US","d":"2019-09-13","v":10.8},
        {"s":"US","d":"2019-10-01","v":10.05},
        {"s":"US","d":"2019-10-16","v":9.7},
        {"s":"US","d":"2019-11-01","v":9.85},
        {"s":"US","d":"2019-11-16","v":9.4},
        {"s":"US","d":"2019-12-04","v":9.0},
        {"s":"US","d":"2019-12-19","v":8.85},
        {"s":"US","d":"2019-12-28","v":8.0},
        {"s":"US","d":"2020-01-16","v":8.55},
        {"s":"US","d":"2020-02-01","v":9.4},
        {"s":"US","d":"2020-02-10","v":9.7},
        {"s":"US","d":"2020-02-28","v":10.25},
        {"s":"US","d":"2020-03-13","v":9.5},
        {"s":"US","d":"2020-03-28","v":9.75},
        {"s":"US","d":"2020-04-13","v":9.1},
        {"s":"US","d":"2020-05-01","v":8.15},
        {"s":"US","d":"2020-05-16","v":9.6},
        {"s":"US","d":"2020-06-01","v":9.3},
        {"s":"US","d":"2020-06-19","v":8.85},

        {"s":"China","d":"2010-06-25","v":3.65},
        {"s":"China","d":"2010-07-07","v":2.8},
        {"s":"China","d":"2010-07-25","v":2.8},
        {"s":"China","d":"2010-08-04","v":3.55},
        {"s":"China","d":"2010-08-19","v":3.75},
        {"s":"China","d":"2010-09-01","v":5.8},
        {"s":"China","d":"2010-09-10","v":6.85},
        {"s":"China","d":"2010-09-28","v":6.55},
        {"s":"China","d":"2010-10-19","v":6.0},
        {"s":"China","d":"2010-10-28","v":6.2},
        {"s":"China","d":"2010-11-07","v":5.25},
        {"s":"China","d":"2010-11-28","v":5.45},
        {"s":"China","d":"2010-12-19","v":4.9},
        {"s":"China","d":"2011-01-01","v":5.35},
        {"s":"China","d":"2011-01-22","v":4.7},
        {"s":"China","d":"2011-02-10","v":4.3},
        {"s":"China","d":"2011-03-01","v":6.4},
        {"s":"China","d":"2011-03-13","v":3.55},
        {"s":"China","d":"2011-03-22","v":2.6},
        {"s":"China","d":"2011-04-07","v":3.35},
        {"s":"China","d":"2011-04-25","v":3.75},
        {"s":"China","d":"2011-05-07","v":4.5},
        {"s":"China","d":"2011-05-19","v":3.35},
        {"s":"China","d":"2011-06-04","v":3.0},
        {"s":"China","d":"2011-06-25","v":2.6},
        {"s":"China","d":"2011-07-16","v":2.4},
        {"s":"China","d":"2011-08-07","v":2.3},
        {"s":"China","d":"2011-08-28","v":2.8},
        {"s":"China","d":"2011-09-19","v":2.7},
        {"s":"China","d":"2011-10-04","v":1.95},
        {"s":"China","d":"2011-10-13","v":3.15},
        {"s":"China","d":"2011-10-22","v":4.7},
        {"s":"China","d":"2011-11-04","v":3.9},
        {"s":"China","d":"2011-11-22","v":3.75},
        {"s":"China","d":"2011-12-10","v":3.45},
        {"s":"China","d":"2012-01-01","v":3.25},
        {"s":"China","d":"2012-01-22","v":3.1},
        {"s":"China","d":"2012-02-13","v":3.15},
        {"s":"China","d":"2012-03-04","v":2.9},
        {"s":"China","d":"2012-03-25","v":2.8},
        {"s":"China","d":"2012-04-16","v":2.6},
        {"s":"China","d":"2012-05-07","v":3.0},
        {"s":"China","d":"2012-05-28","v":2.4},
        {"s":"China","d":"2012-06-19","v":2.9},
        {"s":"China","d":"2012-07-07","v":2.8},
        {"s":"China","d":"2012-07-28","v":3.15},
        {"s":"China","d":"2012-08-19","v":3.35},
        {"s":"China","d":"2012-09-10","v":3.55},
        {"s":"China","d":"2012-10-01","v":3.75},
        {"s":"China","d":"2012-10-22","v":3.35},
        {"s":"China","d":"2012-11-13","v":3.9},
        {"s":"China","d":"2012-12-04","v":3.55},
        {"s":"China","d":"2012-12-25","v":2.8},
        {"s":"China","d":"2013-01-13","v":3.0},
        {"s":"China","d":"2013-02-04","v":2.6},
        {"s":"China","d":"2013-02-25","v":3.35},
        {"s":"China","d":"2013-03-16","v":3.15},
        {"s":"China","d":"2013-04-07","v":2.8},
        {"s":"China","d":"2013-05-07","v":2.4},
        {"s":"China","d":"2013-06-10","v":2.05},
        {"s":"China","d":"2013-07-01","v":2.4},
        {"s":"China","d":"2013-07-22","v":3.15},
        {"s":"China","d":"2013-08-10","v":3.55},
        {"s":"China","d":"2013-09-01","v":3.9},
        {"s":"China","d":"2013-09-22","v":4.3},
        {"s":"China","d":"2013-10-01","v":4.4},
        {"s":"China","d":"2013-11-04","v":4.3},
        {"s":"China","d":"2013-12-04","v":4.2},
        {"s":"China","d":"2014-01-07","v":4.1},
        {"s":"China","d":"2014-02-07","v":3.9},
        {"s":"China","d":"2014-02-28","v":3.25},
        {"s":"China","d":"2014-03-19","v":3.75},
        {"s":"China","d":"2014-04-10","v":4.0},
        {"s":"China","d":"2014-05-01","v":3.85},
        {"s":"China","d":"2014-05-22","v":3.55},
        {"s":"China","d":"2014-06-13","v":3.15},
        {"s":"China","d":"2014-07-01","v":3.0},
        {"s":"China","d":"2014-07-22","v":3.1},
        {"s":"China","d":"2014-08-13","v":3.35},
        {"s":"China","d":"2014-09-01","v":3.0},
        {"s":"China","d":"2014-09-25","v":3.25},
        {"s":"China","d":"2014-10-13","v":3.35},
        {"s":"China","d":"2014-11-04","v":3.55},
        {"s":"China","d":"2014-11-28","v":3.65},
        {"s":"China","d":"2014-12-19","v":3.15},
        {"s":"China","d":"2015-01-10","v":3.45},
        {"s":"China","d":"2015-01-28","v":3.55},
        {"s":"China","d":"2015-02-19","v":3.25},
        {"s":"China","d":"2015-03-13","v":2.9},
        {"s":"China","d":"2015-04-01","v":2.7},
        {"s":"China","d":"2015-04-22","v":2.4},
        {"s":"China","d":"2015-05-13","v":2.6},
        {"s":"China","d":"2015-06-04","v":2.3},
        {"s":"China","d":"2015-06-25","v":2.4},
        {"s":"China","d":"2015-07-13","v":2.25},
        {"s":"China","d":"2015-08-04","v":1.85},
        {"s":"China","d":"2015-08-25","v":1.65},
        {"s":"China","d":"2015-09-16","v":1.55},
        {"s":"China","d":"2015-10-07","v":1.3},
        {"s":"China","d":"2015-10-28","v":1.2},
        {"s":"China","d":"2015-11-19","v":1.4},
        {"s":"China","d":"2015-12-10","v":1.75},
        {"s":"China","d":"2015-12-25","v":3.35},
        {"s":"China","d":"2016-01-04","v":3.65},
        {"s":"China","d":"2016-01-16","v":2.4},
        {"s":"China","d":"2016-02-01","v":2.05},
        {"s":"China","d":"2016-02-13","v":1.45},
        {"s":"China","d":"2016-02-25","v":0.25},
        {"s":"China","d":"2016-03-07","v":2.05},
        {"s":"China","d":"2016-03-19","v":2.3},
        {"s":"China","d":"2016-04-04","v":3.0},
        {"s":"China","d":"2016-04-13","v":3.35},
        {"s":"China","d":"2016-04-28","v":2.4},
        {"s":"China","d":"2016-05-16","v":2.05},
        {"s":"China","d":"2016-05-28","v":1.45},
        {"s":"China","d":"2016-06-16","v":1.1},
        {"s":"China","d":"2016-07-01","v":1.65},
        {"s":"China","d":"2016-07-16","v":1.3},
        {"s":"China","d":"2016-08-01","v":0.9},
        {"s":"China","d":"2016-08-13","v":1.3},
        {"s":"China","d":"2016-08-28","v":2.05},
        {"s":"China","d":"2016-09-19","v":2.6},
        {"s":"China","d":"2016-10-10","v":3.0},
        {"s":"China","d":"2016-10-22","v":3.15},
        {"s":"China","d":"2016-11-04","v":3.55},
        {"s":"China","d":"2016-11-10","v":4.5},
        {"s":"China","d":"2016-12-01","v":3.75},
        {"s":"China","d":"2016-12-16","v":4.3},
        {"s":"China","d":"2017-01-01","v":4.7},
        {"s":"China","d":"2017-01-13","v":4.2},
        {"s":"China","d":"2017-02-04","v":3.85},
        {"s":"China","d":"2017-02-19","v":3.35},
        {"s":"China","d":"2017-03-04","v":3.0},
        {"s":"China","d":"2017-03-19","v":2.8},
        {"s":"China","d":"2017-04-04","v":1.45},
        {"s":"China","d":"2017-04-19","v":1.65},
        {"s":"China","d":"2017-05-07","v":1.45},
        {"s":"China","d":"2017-05-22","v":1.3},
        {"s":"China","d":"2017-06-07","v":1.65},
        {"s":"China","d":"2017-06-22","v":1.45},
        {"s":"China","d":"2017-07-07","v":1.75},
        {"s":"China","d":"2017-07-25","v":1.65},
        {"s":"China","d":"2017-08-10","v":1.85},
        {"s":"China","d":"2017-08-25","v":1.65},
        {"s":"China","d":"2017-09-10","v":2.05},
        {"s":"China","d":"2017-09-28","v":1.75},
        {"s":"China","d":"2017-10-10","v":2.05},
        {"s":"China","d":"2017-10-25","v":1.85},
        {"s":"China","d":"2017-11-13","v":1.4},
        {"s":"China","d":"2017-11-28","v":1.85},
        {"s":"China","d":"2017-12-13","v":2.05},
        {"s":"China","d":"2017-12-28","v":1.75},
        {"s":"China","d":"2018-01-13","v":1.65},
        {"s":"China","d":"2018-02-01","v":1.3},
        {"s":"China","d":"2018-02-16","v":0.9},
        {"s":"China","d":"2018-03-01","v":1.3},
        {"s":"China","d":"2018-03-16","v":1.65},
        {"s":"China","d":"2018-04-04","v":1.45},
        {"s":"China","d":"2018-04-19","v":1.3},
        {"s":"China","d":"2018-05-01","v":1.4},
        {"s":"China","d":"2018-05-19","v":1.3},
        {"s":"China","d":"2018-06-04","v":1.4},
        {"s":"China","d":"2018-06-19","v":1.65},
        {"s":"China","d":"2018-07-04","v":1.75},
        {"s":"China","d":"2018-07-22","v":1.85},
        {"s":"China","d":"2018-08-07","v":1.95},
        {"s":"China","d":"2018-08-22","v":1.85},
        {"s":"China","d":"2018-09-07","v":2.05},
        {"s":"China","d":"2018-09-22","v":2.15},
        {"s":"China","d":"2018-10-07","v":2.3},
        {"s":"China","d":"2018-10-25","v":2.05},
        {"s":"China","d":"2018-11-07","v":2.15},
        {"s":"China","d":"2018-11-25","v":2.6},
        {"s":"China","d":"2018-12-04","v":2.9},
        {"s":"China","d":"2018-12-19","v":2.25},
        {"s":"China","d":"2019-01-07","v":1.85},
        {"s":"China","d":"2019-01-22","v":1.45},
        {"s":"China","d":"2019-02-07","v":1.3},
        {"s":"China","d":"2019-02-22","v":0.9},
        {"s":"China","d":"2019-03-04","v":1.3},
        {"s":"China","d":"2019-03-19","v":1.75},
        {"s":"China","d":"2019-04-04","v":1.55},
        {"s":"China","d":"2019-04-19","v":1.85},
        {"s":"China","d":"2019-05-07","v":1.45},
        {"s":"China","d":"2019-05-19","v":1.65},
        {"s":"China","d":"2019-06-04","v":1.75},
        {"s":"China","d":"2019-06-22","v":1.95},
        {"s":"China","d":"2019-07-07","v":1.85},
        {"s":"China","d":"2019-07-22","v":2.05},
        {"s":"China","d":"2019-08-07","v":1.95},
        {"s":"China","d":"2019-08-25","v":2.25},
        {"s":"China","d":"2019-09-10","v":2.15},
        {"s":"China","d":"2019-09-25","v":2.3},
        {"s":"China","d":"2019-10-10","v":2.15},
        {"s":"China","d":"2019-10-25","v":2.3},
        {"s":"China","d":"2019-11-13","v":2.4},
        {"s":"China","d":"2019-11-25","v":2.25},
        {"s":"China","d":"2019-12-10","v":2.3},
        {"s":"China","d":"2019-12-28","v":2.6},
        {"s":"China","d":"2020-01-13","v":2.8},
        {"s":"China","d":"2020-01-28","v":2.5},
        {"s":"China","d":"2020-02-13","v":2.25},
        {"s":"China","d":"2020-02-28","v":2.3},
        {"s":"China","d":"2020-03-13","v":2.4},
        {"s":"China","d":"2020-03-28","v":2.3},
        {"s":"China","d":"2020-04-13","v":1.75},
        {"s":"China","d":"2020-04-28","v":1.65},
        {"s":"China","d":"2020-05-13","v":2.05},
        {"s":"China","d":"2020-05-25","v":2.5},
        {"s":"China","d":"2020-06-04","v":2.3},
        {"s":"China","d":"2020-06-22","v":2.05}
      ]},
      "mark": {"type": "line", "strokeWidth": 1.5, "clip": false},
      "encoding": {
        "x": {
          "field": "d",
          "type": "temporal",
          "scale": {
            "type": "utc",
            "domain": [
              {"year": 2010, "month": 4, "date": 24, "utc": true},
              {"year": 2020, "month": 6, "date": 20, "utc": true}
            ],
            "range": [29, 618]
          },
          "axis": {
            "title": null,
            "offset": -75,
            "grid": false,
            "ticks": false,
            "values": [
              {"year": 2010, "month": 6, "date": 1, "utc": true},
              {"year": 2010, "month": 12, "date": 1, "utc": true},
              {"year": 2011, "month": 6, "date": 1, "utc": true},
              {"year": 2011, "month": 12, "date": 1, "utc": true},
              {"year": 2012, "month": 6, "date": 1, "utc": true},
              {"year": 2012, "month": 12, "date": 1, "utc": true},
              {"year": 2013, "month": 6, "date": 1, "utc": true},
              {"year": 2013, "month": 12, "date": 1, "utc": true},
              {"year": 2014, "month": 6, "date": 1, "utc": true},
              {"year": 2014, "month": 12, "date": 1, "utc": true},
              {"year": 2015, "month": 6, "date": 1, "utc": true},
              {"year": 2015, "month": 12, "date": 1, "utc": true},
              {"year": 2016, "month": 6, "date": 1, "utc": true},
              {"year": 2016, "month": 12, "date": 1, "utc": true},
              {"year": 2017, "month": 6, "date": 1, "utc": true},
              {"year": 2017, "month": 12, "date": 1, "utc": true},
              {"year": 2018, "month": 6, "date": 1, "utc": true},
              {"year": 2018, "month": 12, "date": 1, "utc": true},
              {"year": 2019, "month": 6, "date": 1, "utc": true},
              {"year": 2019, "month": 12, "date": 1, "utc": true},
              {"year": 2020, "month": 6, "date": 1, "utc": true}
            ],
            "labelExpr": "(utcmonth(datum.value) == 5 ? 'June ' : 'Dec ') + utcyear(datum.value)",
            "labelAngle": -90,
            "labelAlign": "right",
            "labelBaseline": "middle",
            "labelPadding": 8,
            "labelFontSize": 7.5,
            "labelColor": "#333333",
            "labelOverlap": false,
            "labelFlush": false,
            "labelBound": false,
            "domainColor": "#c4c4c4",
            "domainWidth": 1.5
          }
        },
        "y": {
          "field": "v",
          "type": "quantitative",
          "scale": {"domain": [0, 12], "range": [243, 30], "nice": false, "zero": true},
          "axis": {
            "title": null,
            "offset": -29,
            "grid": false,
            "ticks": false,
            "values": [0, 2, 4, 6, 8, 10, 12],
            "labelPadding": 7,
            "labelFontSize": 8.5,
            "labelColor": "#333333",
            "labelFlush": false,
            "domainColor": "#b5b5b5",
            "domainWidth": 1
          }
        },
        "color": {
          "field": "s",
          "type": "nominal",
          "scale": {
            "domain": ["Black Sea", "Southern Europe", "US", "China"],
            "range": ["#c1272d", "#e08a2e", "#7030a0", "#4ba3dc"]
          },
          "legend": {
            "title": null,
            "orient": "none",
            "legendX": 144,
            "legendY": 49,
            "columns": 2,
            "columnPadding": 7,
            "rowPadding": -1.5,
            "symbolType": "stroke",
            "symbolSize": 180,
            "symbolStrokeWidth": 3,
            "labelFont": "Liberation Sans",
            "labelFontSize": 9,
            "labelColor": "#333333",
            "labelOffset": 4
          }
        }
      }
    }
  ]
}
